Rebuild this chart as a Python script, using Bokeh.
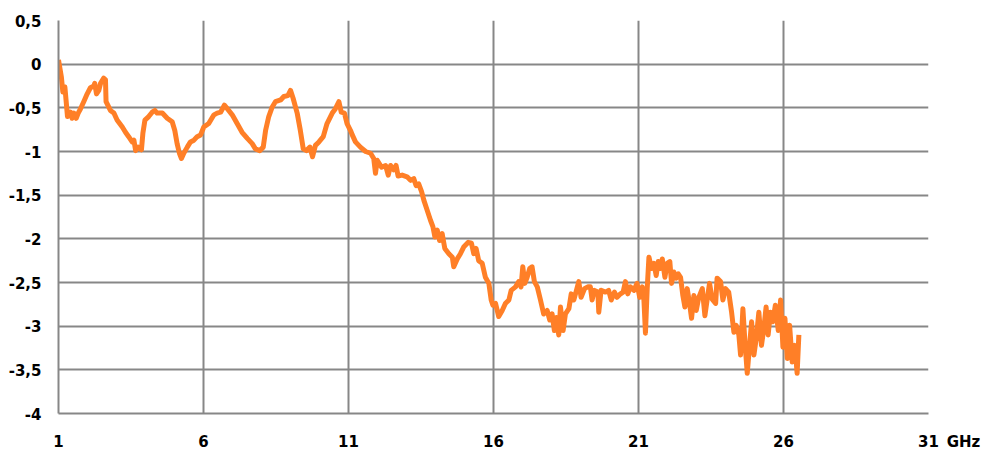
from bokeh.plotting import figure
from bokeh.layouts import row
from bokeh.models import FixedTicker, Range1d
from bokeh.embed import file_html
from bokeh.resources import INLINE

freq_ghz = [
    1.00, 1.10, 1.15, 1.22, 1.26, 1.31, 1.41, 1.47, 1.53, 1.61, 1.68, 1.76, 1.87, 1.99,
    2.10, 2.22, 2.25, 2.31, 2.39, 2.45, 2.56, 2.62, 2.64, 2.79, 2.91, 3.02, 3.20, 3.31,
    3.42, 3.54, 3.60, 3.66, 3.75, 3.86, 3.91, 3.98, 4.11, 4.23, 4.32, 4.40, 4.58, 4.75,
    4.92, 5.01, 5.09, 5.17, 5.24, 5.32, 5.44, 5.55, 5.67, 5.78, 5.90, 6.01, 6.18, 6.36,
    6.47, 6.59, 6.72, 6.82, 6.99, 7.16, 7.33, 7.51, 7.68, 7.79, 7.94, 8.06, 8.14, 8.25,
    8.37, 8.48, 8.66, 8.77, 8.91, 9.00, 9.09, 9.23, 9.34, 9.44, 9.55, 9.67, 9.76, 9.86,
    9.98, 10.13, 10.26, 10.44, 10.55, 10.67, 10.75, 10.86, 10.95, 11.07, 11.13, 11.24,
    11.41, 11.59, 11.76, 11.87, 11.93, 11.99, 12.14, 12.28, 12.37, 12.45, 12.56, 12.64,
    12.71, 12.85, 13.02, 13.14, 13.25, 13.33, 13.42, 13.52, 13.60, 13.71, 13.83, 13.91,
    13.98, 14.06, 14.14, 14.23, 14.32, 14.46, 14.58, 14.63, 14.75, 14.86, 14.98, 15.13,
    15.24, 15.32, 15.40, 15.49, 15.61, 15.72, 15.84, 15.92, 15.98, 16.07, 16.18, 16.30,
    16.41, 16.53, 16.61, 16.76, 16.87, 16.95, 17.01, 17.08, 17.16, 17.25, 17.33, 17.41,
    17.51, 17.62, 17.73, 17.85, 17.94, 18.02, 18.10, 18.17, 18.25, 18.31, 18.40, 18.48,
    18.60, 18.68, 18.77, 18.86, 18.94, 19.02, 19.14, 19.25, 19.34, 19.40, 19.48, 19.60,
    19.63, 19.71, 19.86, 19.97, 20.06, 20.17, 20.26, 20.38, 20.47, 20.55, 20.63, 20.72,
    20.84, 20.95, 21.04, 21.13, 21.18, 21.24, 21.30, 21.36, 21.45, 21.53, 21.61, 21.68,
    21.75, 21.82, 21.91, 21.99, 22.08, 22.14, 22.22, 22.30, 22.37, 22.45, 22.53, 22.60,
    22.68, 22.76, 22.83, 22.91, 22.99, 23.08, 23.20, 23.29, 23.37, 23.45, 23.54, 23.66,
    23.71, 23.83, 23.91, 24.00, 24.11, 24.21, 24.29, 24.37, 24.46, 24.52, 24.60, 24.67,
    24.75, 24.83, 24.90, 24.98, 25.06, 25.15, 25.24, 25.32, 25.40, 25.47, 25.55, 25.63,
    25.72, 25.82, 25.90, 25.98, 26.05, 26.13, 26.21, 26.30, 26.39, 26.47, 26.53,
]

loss_db = [
    0.05, -0.15, -0.32, -0.26, -0.41, -0.60, -0.55, -0.62, -0.56, -0.62, -0.56, -0.51, -0.43, -0.34,
    -0.27, -0.25, -0.22, -0.34, -0.30, -0.22, -0.16, -0.18, -0.43, -0.53, -0.56, -0.64, -0.72, -0.78,
    -0.83, -0.89, -0.87, -0.99, -0.95, -0.98, -0.79, -0.64, -0.60, -0.55, -0.53, -0.56, -0.56, -0.62,
    -0.66, -0.76, -0.91, -1.02, -1.08, -1.02, -0.95, -0.89, -0.87, -0.83, -0.81, -0.72, -0.68, -0.58,
    -0.56, -0.55, -0.47, -0.51, -0.58, -0.68, -0.78, -0.85, -0.91, -0.97, -0.99, -0.95, -0.76, -0.60,
    -0.49, -0.43, -0.41, -0.37, -0.36, -0.30, -0.39, -0.56, -0.76, -0.97, -0.99, -0.95, -1.06, -0.93,
    -0.89, -0.83, -0.68, -0.56, -0.51, -0.43, -0.55, -0.56, -0.68, -0.76, -0.81, -0.89,
    -0.95, -1.00, -1.02, -1.08, -1.25, -1.10, -1.18, -1.16, -1.27, -1.16, -1.21, -1.16,
    -1.28, -1.27, -1.29, -1.33, -1.31, -1.39, -1.37, -1.46, -1.56, -1.67, -1.79, -1.86,
    -1.98, -1.90, -2.02, -1.94, -2.11, -2.17, -2.21, -2.32, -2.23, -2.17, -2.09, -2.04,
    -2.05, -2.17, -2.11, -2.25, -2.28, -2.44, -2.51, -2.70, -2.76, -2.74, -2.89, -2.82,
    -2.74, -2.70, -2.59, -2.55, -2.49, -2.55, -2.32, -2.51, -2.44, -2.34, -2.32, -2.49,
    -2.55, -2.70, -2.86, -2.82, -2.93, -2.86, -3.05, -2.90, -3.10, -2.78, -3.05, -2.86,
    -2.80, -2.63, -2.70, -2.59, -2.49, -2.67, -2.57, -2.55, -2.55, -2.70, -2.59, -2.61,
    -2.84, -2.59, -2.61, -2.59, -2.70, -2.61, -2.67, -2.63, -2.61, -2.49, -2.63, -2.55,
    -2.59, -2.51, -2.67, -2.55, -2.65, -3.08, -2.57, -2.21, -2.34, -2.28, -2.42, -2.26,
    -2.34, -2.23, -2.44, -2.28, -2.26, -2.51, -2.38, -2.45, -2.40, -2.44, -2.65, -2.78,
    -2.57, -2.74, -2.91, -2.65, -2.82, -2.67, -2.57, -2.88, -2.69, -2.51, -2.69, -2.74,
    -2.45, -2.49, -2.70, -2.57, -2.61, -2.84, -3.07, -2.99, -3.10, -3.33, -2.80, -3.18,
    -3.54, -3.22, -2.95, -3.33, -3.14, -2.84, -3.22, -3.03, -2.78, -3.10, -2.84, -2.95,
    -2.76, -3.05, -2.70, -3.24, -2.91, -3.37, -2.99, -3.41, -3.22, -3.54, -3.10,
]

x_ticks = [1, 6, 11, 16, 21, 26, 31]
y_ticks = [0.5, 0, -0.5, -1, -1.5, -2, -2.5, -3, -3.5, -4]
y_tick_labels = ["0,5", "0", "-0,5", "-1", "-1,5", "-2", "-2,5", "-3", "-3,5", "-4"]
x_unit = "GHz"

H = 466
p = figure(width=942, height=H, output_backend="svg", toolbar_location=None,
           x_range=Range1d(1, 31), y_range=Range1d(-4, 0.5),
           min_border_left=58, min_border_right=14, min_border_top=20, min_border_bottom=53)
p.outline_line_color = None
p.background_fill_color = "white"
p.border_fill_color = "white"

grid_color = "#878787"
for ax in (p.xaxis[0], p.yaxis[0]):
    ax.major_tick_line_color = None
    ax.minor_tick_line_color = None
    ax.axis_line_color = grid_color
    ax.axis_line_width = 2
    ax.major_label_text_font = "DejaVu Sans"
    ax.major_label_text_font_style = "bold"
    ax.major_label_text_font_size = "15px"
    ax.major_label_text_color = "black"
    ax.major_tick_out = 0
    ax.major_tick_in = 0

p.xaxis.ticker = FixedTicker(ticks=x_ticks)
p.yaxis.ticker = FixedTicker(ticks=y_ticks)
p.yaxis.major_label_overrides = {t: l for t, l in zip(y_ticks, y_tick_labels)}
p.xaxis.major_label_standoff = 21
p.yaxis.major_label_standoff = 17

p.xgrid.ticker = FixedTicker(ticks=x_ticks)
p.ygrid.ticker = FixedTicker(ticks=y_ticks)
p.grid.grid_line_color = grid_color
p.grid.grid_line_width = 2

p.line(freq_ghz, loss_db, line_color="#FF7F27", line_width=5, line_join="round")

# narrow companion panel whose bottom axis carries the unit label beside "31"
U_W = 44
u = figure(width=U_W, height=H, output_backend="svg", toolbar_location=None,
           y_axis_type=None, x_range=Range1d(0, U_W), y_range=Range1d(0, 1),
           min_border_left=0, min_border_right=0, min_border_top=20, min_border_bottom=53)
u.outline_line_color = None
u.grid.visible = False
u.background_fill_color = "white"
u.border_fill_color = "white"
ux = u.xaxis[0]
ux.ticker = FixedTicker(ticks=[21])
ux.major_label_overrides = {21: x_unit}
ux.axis_line_color = None
ux.major_tick_line_color = None
ux.minor_tick_line_color = None
ux.major_tick_out = 0
ux.major_tick_in = 0
ux.major_label_standoff = 19
ux.major_label_text_font = "DejaVu Sans"
ux.major_label_text_font_style = "bold"
ux.major_label_text_font_size = "15px"
ux.major_label_text_color = "black"

layout = row(p, u, spacing=0)
open("out.html", "w").write(file_html(layout, INLINE))
